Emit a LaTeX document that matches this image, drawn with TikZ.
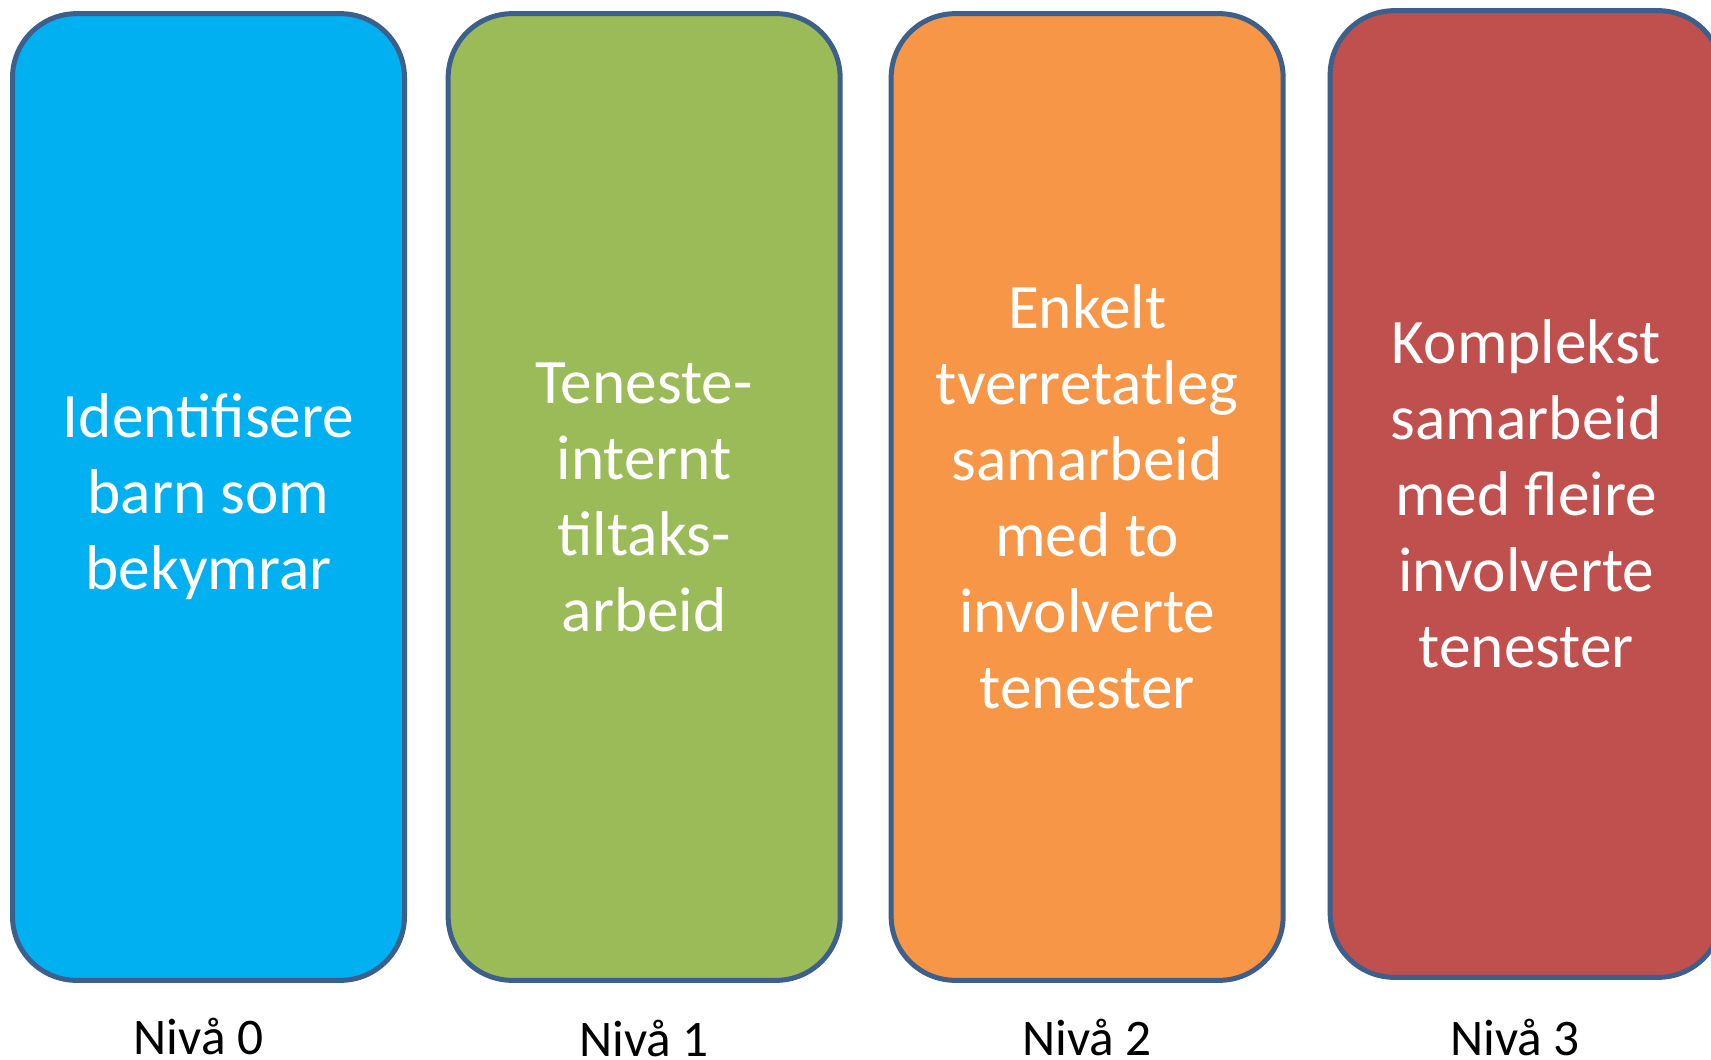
\documentclass[tikz,border=0pt]{standalone}
\usepackage{fontspec}
\setmainfont{Carlito}
\usetikzlibrary{positioning, calc}

\definecolor{nivablue}{HTML}{00B0F0}
\definecolor{nivagreen}{HTML}{9BBB59}
\definecolor{nivaorange}{HTML}{F79646}
\definecolor{nivared}{HTML}{C0504D}
\definecolor{nivaedge}{HTML}{3D5F8C}

\tikzset{
  levelbox/.style={rectangle, rounded corners=48pt, draw=nivaedge, line width=3.75pt,
    minimum width=294pt, minimum height=725pt, inner sep=0pt, align=center,
    text=white, font=\fontsize{47.5}{57}\selectfont},
  levelname/.style={anchor=base, inner sep=0pt, font=\fontsize{38.5}{45}\selectfont}
}

\begin{document}
\begin{tikzpicture}[x=0.75pt, y=-0.75pt]
        \path[use as bounding box, clip] (0,0) rectangle (1711,1060);

        % Boxes (left to right)
        \node (lvl0) [levelbox, fill=nivablue] at (208.5,497) {Identifisere\\barn som\\bekymrar};
        \node (lvl1) [levelbox, fill=nivagreen, right=29pt of lvl0] {Teneste-\\internt\\tiltaks-\\arbeid};
        \node (lvl2) [levelbox, fill=nivaorange, right=34.5pt of lvl1] {Enkelt\\tverretatleg\\samarbeid\\med to\\involverte\\tenester};
        \node (lvl3) [levelbox, fill=nivared, right=31.5pt of lvl2, yshift=2.25pt] {Komplekst\\samarbeid\\med fleire\\involverte\\tenester};

        % Level names
        \node (niva0) [levelname] at ($(lvl0.south)+(-10,72)$) {Nivå 0};
        \node (niva1) [levelname] at ($(lvl1.south)+(0,74)$) {Nivå 1};
        \node (niva2) [levelname] at ($(lvl2.south)+(0,73)$) {Nivå 2};
        \node (niva3) [levelname] at ($(lvl3.south)+(-11,76)$) {Nivå 3};
    \end{tikzpicture}
\end{document}
